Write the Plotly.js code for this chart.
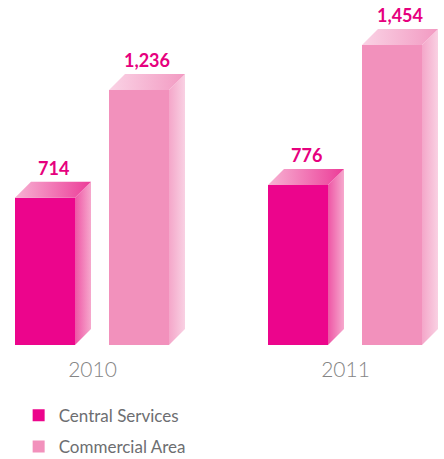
<!DOCTYPE html>
<html>
<head>
<meta charset="utf-8">
<script src="https://cdn.plot.ly/plotly-3.0.1.min.js"></script>
<style>html,body{margin:0;padding:0;background:#fff;}#chart{width:444px;height:459px;}</style>
</head>
<body>
<div id="chart"></div>
<script>
// ---- data ----
const years = ['2010', '2011'];
const seriesNames = ['Central Services', 'Commercial Area'];
const centralServices = [714, 776];
const commercialArea = [1236, 1454];

// ---- geometry / style (pixels converted into axis units) ----
const PX_PER_X = 253;                 // pixels per category step
const Y_MAX = 1672;                   // y-axis range top
const PLOT_H = 345;                   // plot area height in px
const PX_PER_Y = PLOT_H / Y_MAX;
const BAR_W = 60 / PX_PER_X;
const OFFSETS = [-77.5 / PX_PER_X, 16.5 / PX_PER_X];
const DX = 16 / PX_PER_X;
const DY = 16 / PX_PER_Y;

const styles = [
  { front: '#EC058C', side: ['#EE55A5', '#F6A9CD'], top: ['#F7B3D3', '#EC3C98'] },
  { front: '#F291BC', side: ['#F4A6C9', '#F9D1E3'], top: ['#FAD3E5', '#F29AC2'] }
];
const series = [centralServices, commercialArea];

const traces = [];
const annotations = [];

series.forEach((vals, s) => {
  // front face (native bars)
  traces.push({
    type: 'bar', name: seriesNames[s], x: years.map((_, i) => i), y: vals,
    width: BAR_W, offset: OFFSETS[s],
    marker: { color: styles[s].front, line: { width: 0 } },
    legendgroup: 'g' + s, hoverinfo: 'skip'
  });
  vals.forEach((v, i) => {
    const x0 = i + OFFSETS[s], x1 = x0 + BAR_W;
    // side face
    traces.push({
      type: 'scatter', mode: 'lines', showlegend: false, hoverinfo: 'skip',
      x: [x1, x1 + DX, x1 + DX, x1, x1], y: [0, DY, v + DY, v, 0],
      fill: 'toself', line: { width: 0 }, fillcolor: styles[s].side[0],
      fillgradient: { type: 'horizontal', colorscale: [[0, styles[s].side[0]], [1, styles[s].side[1]]] }
    });
    // top face
    traces.push({
      type: 'scatter', mode: 'lines', showlegend: false, hoverinfo: 'skip',
      x: [x0, x0 + DX, x1 + DX, x1, x0], y: [v, v + DY, v + DY, v, v],
      fill: 'toself', line: { width: 0 }, fillcolor: styles[s].top[0],
      fillgradient: { type: 'horizontal', colorscale: [[0, styles[s].top[0]], [1, styles[s].top[1]]] }
    });
    annotations.push({
      x: (x0 + x1) / 2 + DX / 2, y: v + DY, xref: 'x', yref: 'y',
      yanchor: 'bottom', xanchor: 'center', yshift: 1, showarrow: false,
      text: '<b>' + v.toLocaleString('en-US') + '</b>',
      font: { family: 'Lato, "Open Sans", sans-serif', size: 18, color: '#E6007E' }
    });
  });
});

const layout = {
  width: 444, height: 459,
  margin: { l: 0, r: 0, t: 0, b: 459 - PLOT_H, autoexpand: false },
  paper_bgcolor: '#fff', plot_bgcolor: '#fff',
  showlegend: true,
  legend: {
    x: 0.042, y: -0.153, xanchor: 'left', yanchor: 'top',
    orientation: 'v', traceorder: 'grouped', tracegroupgap: 6,
    font: { family: 'Lato, "Open Sans", sans-serif', size: 17, color: '#6D6E71' }
  },
  xaxis: {
    range: [-92.5 / PX_PER_X, (444 - 92.5) / PX_PER_X],
    tickvals: years.map((_, i) => i), ticktext: years,
    showgrid: false, zeroline: false, showline: false, ticks: '',
    ticklabelstandoff: 10,
    tickfont: { family: 'Lato, "Open Sans", sans-serif', size: 21, color: '#858585', weight: 300 },
    fixedrange: true
  },
  yaxis: { range: [0, Y_MAX], visible: false, fixedrange: true },
  annotations: annotations
};

Plotly.newPlot('chart', traces, layout, { staticPlot: true, displayModeBar: false });
</script>
</body>
</html>
